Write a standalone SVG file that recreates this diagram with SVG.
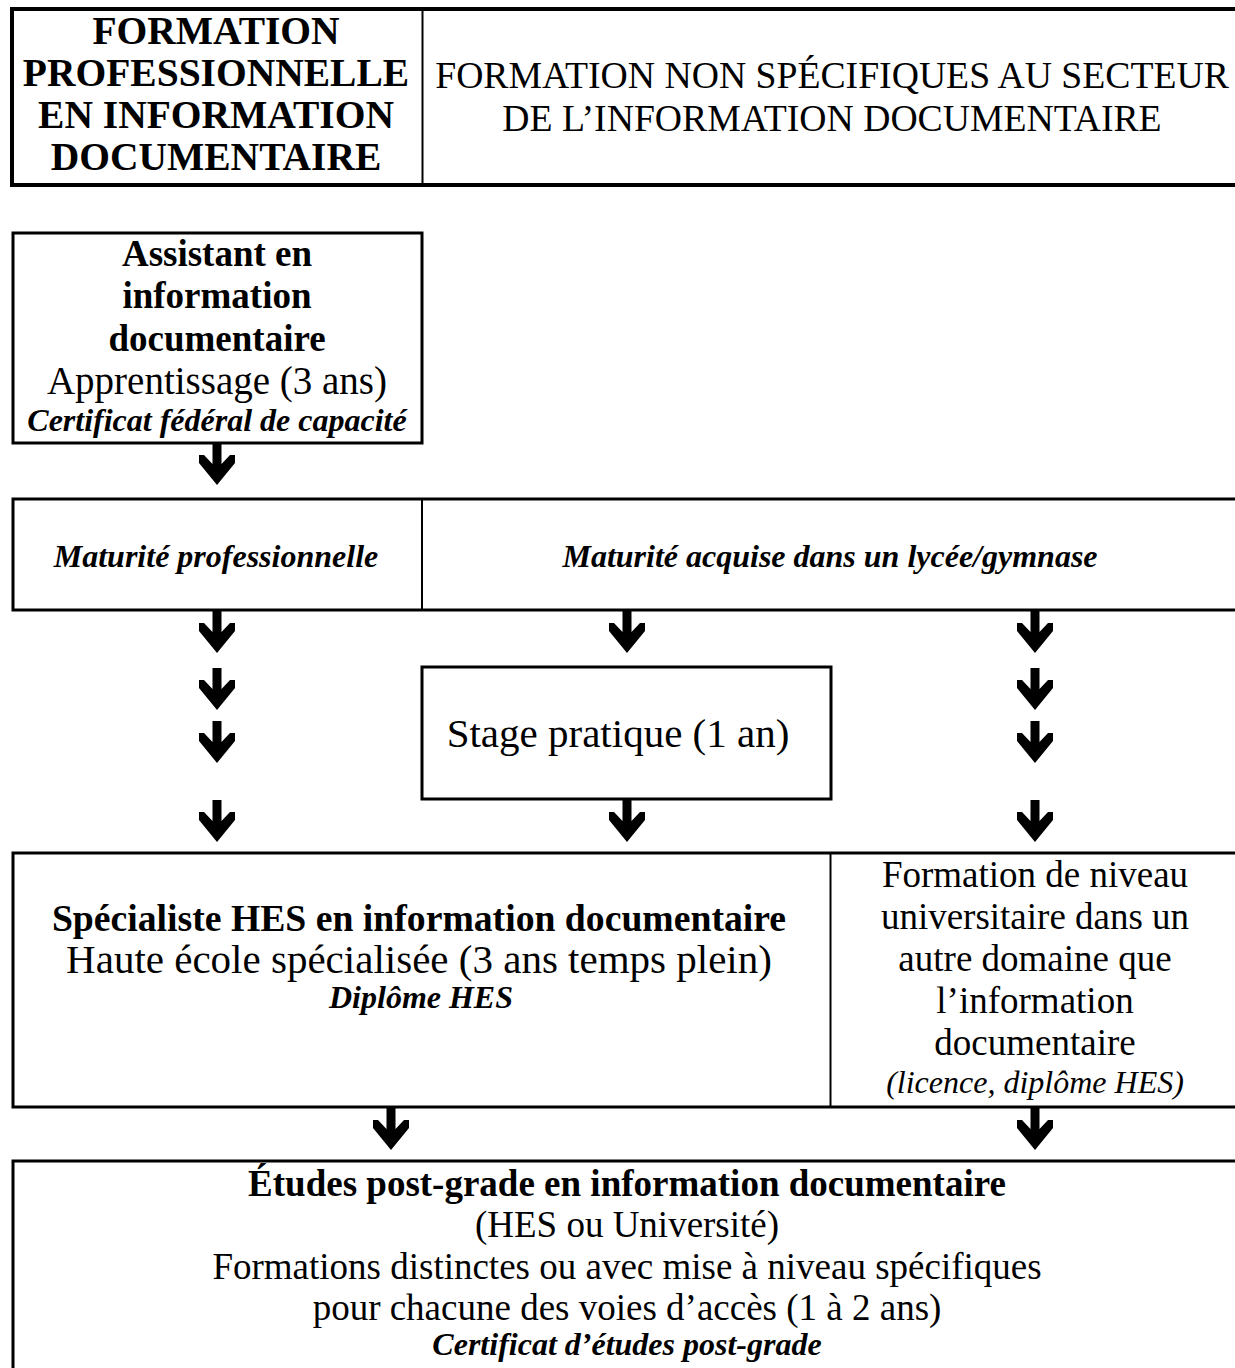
<svg xmlns="http://www.w3.org/2000/svg" xmlns:xlink="http://www.w3.org/1999/xlink" width="1235" height="1368" viewBox="0 0 1235 1368">
<style>
  text { font-family: "Liberation Serif", "Times New Roman", serif; fill: #000; text-anchor: middle; }
  .r { font-size: 37px; }
  .b { font-size: 37px; font-weight: bold; }
  .bh { font-size: 39.5px; font-weight: bold; }
  .rh { font-size: 37.7px; }
  .rl { font-size: 41px; }
  .bi { font-size: 32px; font-weight: bold; font-style: italic; }
  .i { font-size: 32px; font-style: italic; }
  .box { fill: #fff; stroke: #000; stroke-width: 3; }
  .thick { fill: #fff; stroke: #000; stroke-width: 4; }
  .div { stroke: #000; stroke-width: 2; }
</style>
<defs>
  <path id="arr" d="M -4.5 0 H 4.5 V 21 L 13 12 H 18 V 20 L 0 42 L -18 20 V 12 H -13 L -4.5 21 Z" fill="#000"/>
</defs>
<rect width="1235" height="1368" fill="#fff"/>

<g id="header">
  <rect class="thick" x="12" y="9" width="1240" height="176"/>
  <line class="div" x1="422.5" y1="11" x2="422.5" y2="183"/>
  <text class="bh" x="216" y="44">FORMATION</text>
  <text class="bh" x="216" y="86">PROFESSIONNELLE</text>
  <text class="bh" x="216" y="128">EN INFORMATION</text>
  <text class="bh" x="216" y="170">DOCUMENTAIRE</text>
  <text class="rh" x="832" y="88">FORMATION NON SPÉCIFIQUES AU SECTEUR</text>
  <text class="rh" x="832" y="131">DE L’INFORMATION DOCUMENTAIRE</text>
</g>

<g id="assistant">
  <rect class="box" x="13" y="233" width="409" height="210"/>
  <text class="b" x="217" y="266">Assistant en</text>
  <text class="b" x="217" y="308">information</text>
  <text class="b" x="217" y="351">documentaire</text>
  <text class="r" x="217" y="394" style="font-size:39px">Apprentissage (3 ans)</text>
  <text class="bi" x="217" y="431">Certificat fédéral de capacité</text>
</g>

<g id="maturite">
  <rect class="box" x="13" y="499" width="1240" height="111"/>
  <line class="div" x1="422" y1="499" x2="422" y2="610"/>
  <text class="bi" x="216" y="567">Maturité professionnelle</text>
  <text class="bi" x="830" y="567">Maturité acquise dans un lycée/gymnase</text>
</g>

<g id="stage">
  <rect class="box" x="422" y="667" width="409" height="132"/>
  <text class="rl" x="618" y="747">Stage pratique (1 an)</text>
</g>

<g id="specialiste">
  <rect class="box" x="13" y="853" width="1240" height="254"/>
  <line class="div" x1="830.5" y1="853" x2="830.5" y2="1107"/>
  <text class="b" x="419" y="931" style="font-size:37.7px">Spécialiste HES en information documentaire</text>
  <text class="rl" x="419" y="973">Haute école spécialisée (3 ans temps plein)</text>
  <text class="bi" x="421" y="1008">Diplôme HES</text>
</g>

<g id="universitaire">
  <text class="r" x="1035" y="887">Formation de niveau</text>
  <text class="r" x="1035" y="929">universitaire dans un</text>
  <text class="r" x="1035" y="971">autre domaine que</text>
  <text class="r" x="1035" y="1013">l’information</text>
  <text class="r" x="1035" y="1055">documentaire</text>
  <text class="i" x="1035" y="1093">(licence, diplôme HES)</text>
</g>

<g id="postgrade">
  <rect class="box" x="13" y="1161" width="1240" height="230"/>
  <text class="b" x="627" y="1196">Études post-grade en information documentaire</text>
  <text class="r" x="627" y="1237">(HES ou Université)</text>
  <text class="r" x="627" y="1279">Formations distinctes ou avec mise à niveau spécifiques</text>
  <text class="r" x="627" y="1320">pour chacune des voies d’accès (1 à 2 ans)</text>
  <text class="bi" x="627" y="1355">Certificat d’études post-grade</text>
</g>

<g id="connectors">
  <use xlink:href="#arr" transform="translate(217 443)"/>
  <use xlink:href="#arr" transform="translate(217 611)"/>
  <use xlink:href="#arr" transform="translate(217 668)"/>
  <use xlink:href="#arr" transform="translate(217 721)"/>
  <use xlink:href="#arr" transform="translate(217 800)"/>
  <use xlink:href="#arr" transform="translate(627 611)"/>
  <use xlink:href="#arr" transform="translate(627 800)"/>
  <use xlink:href="#arr" transform="translate(1035 611)"/>
  <use xlink:href="#arr" transform="translate(1035 668)"/>
  <use xlink:href="#arr" transform="translate(1035 721)"/>
  <use xlink:href="#arr" transform="translate(1035 800)"/>
  <use xlink:href="#arr" transform="translate(391 1108)"/>
  <use xlink:href="#arr" transform="translate(1035 1108)"/>
</g>
</svg>
